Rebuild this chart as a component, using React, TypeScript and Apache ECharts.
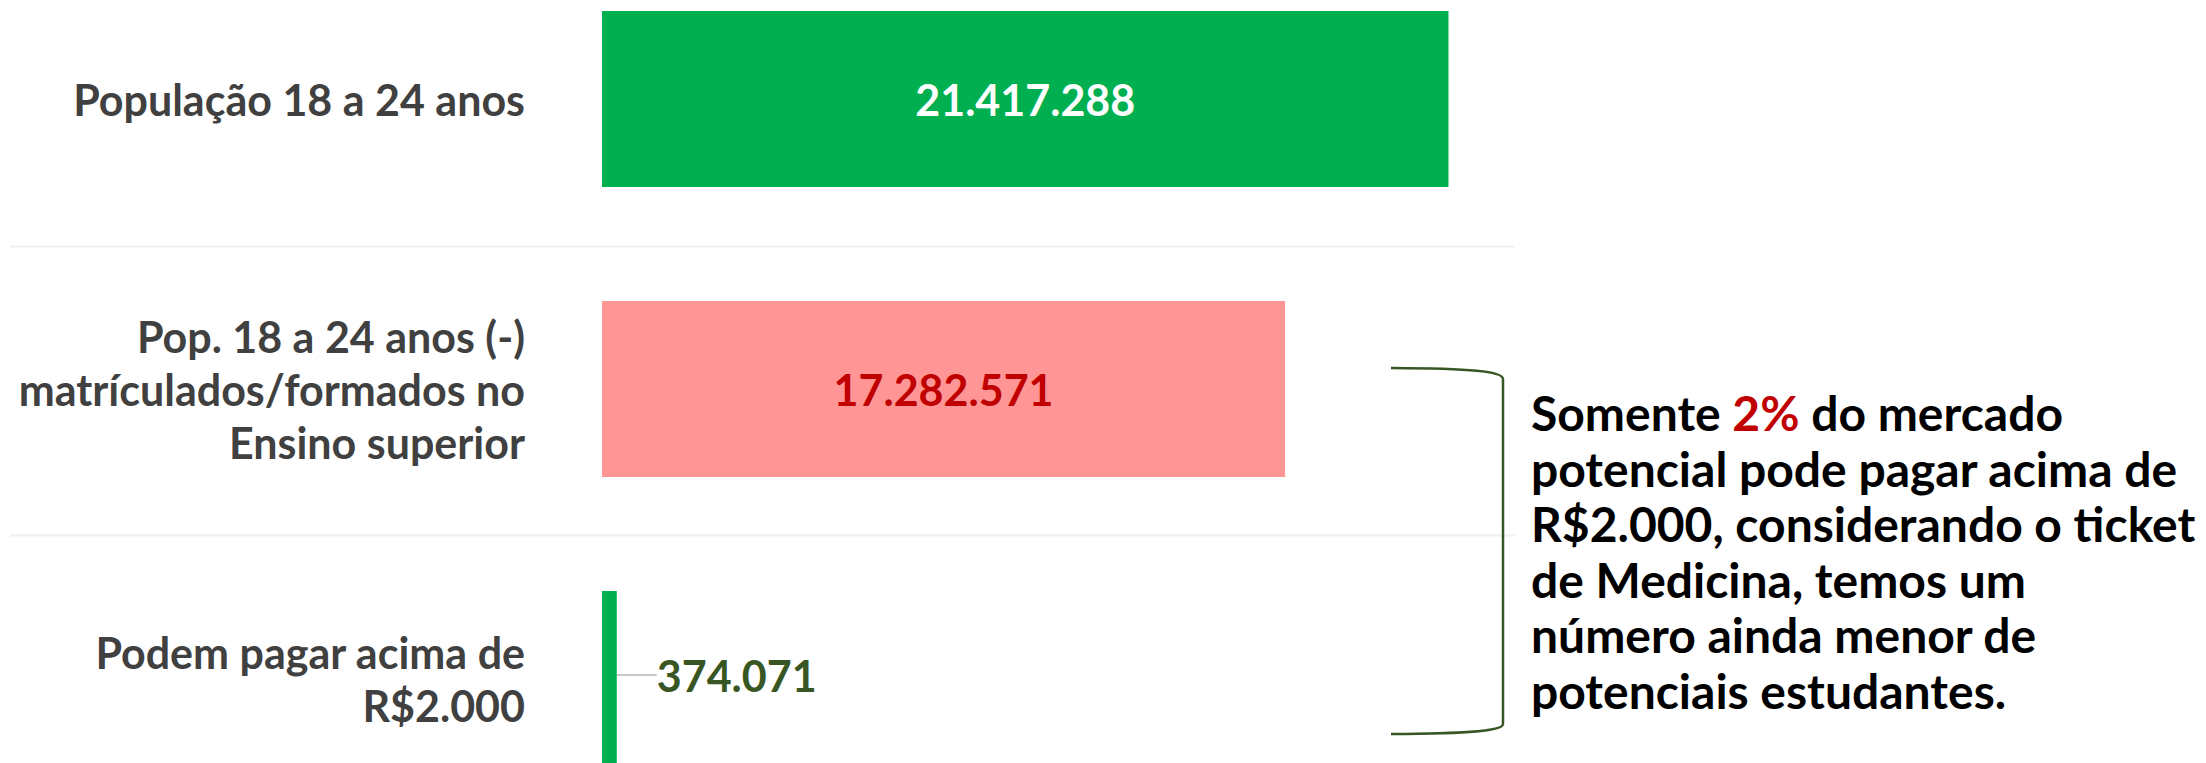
import React, { useEffect, useRef } from "react";
import * as echarts from "echarts";

const categories = [
  "População 18 a 24 anos",
  "Pop. 18 a 24 anos (-)\nmatrículados/formados no\nEnsino superior",
  "Podem pagar acima de\nR$2.000",
];
const values = [21417288, 17282571, 374071];
const barColors = ["#00b050", "#ff9595", "#00b050"];
const labelColors = ["#ffffff", "#c00000", "#375623"];
const noteLines = [
  "{b|Somente }{r|2%}{b| do mercado}",
  "{b|potencial pode pagar acima de}",
  "{b|R$2.000, considerando o ticket}",
  "{b|de Medicina, temos um}",
  "{b|número ainda menor de}",
  "{b|potenciais estudantes.}",
];

const fmt = (v: number) => v.toLocaleString("de-DE");

export default function App() {
  const ref = useRef<HTMLDivElement>(null);
  useEffect(() => {
    if (!ref.current) return;
    const chart = echarts.init(ref.current, undefined, { renderer: "svg" });
    const font = "Lato";
    chart.setOption({
      animation: false,
      backgroundColor: "#ffffff",
      grid: {
        left: 602,
        top: -46,
        width: 913,
        height: 870,
        containLabel: false,
        outerBoundsMode: "none",
      },
      xAxis: {
        type: "value",
        min: 0,
        max: 23100000,
        show: false,
      },
      yAxis: {
        type: "category",
        inverse: true,
        data: categories,
        axisLine: { show: false },
        axisTick: { show: false },
        splitLine: { show: false },
        axisLabel: {
          margin: 77,
          fontFamily: font,
          fontWeight: "bold",
          fontSize: 43,
          lineHeight: 53,
          color: "#404040",
          align: "right",
        },
      },
      series: [
        {
          type: "bar",
          barCategoryGap: "39.3%",
          data: values.map((v, i) => ({
            value: v,
            itemStyle: { color: barColors[i] },
            label: {
              show: true,
              position: i === 2 ? "right" : "inside",
              distance: 5,
              color: labelColors[i],
              fontFamily: font,
              fontWeight: "bold",
              fontSize: 43,
              padding: i === 2 ? [0, 0, 0, 20] : 0,
              formatter: (p: any) => fmt(p.value),
            },
            labelLine: {
              show: i === 2,
              length2: 0,
              lineStyle: { color: "#c8c8c8", width: 2 },
            },
          })),
          labelLayout: (p: any) => (p.dataIndex === 2 ? { dx: 15, dy: -4 } : {}),
        },
      ],
      graphic: [
        {
          type: "line",
          shape: { x1: 10, y1: 246.5, x2: 1515, y2: 246.5 },
          style: { stroke: "#f0f0f0", lineWidth: 2 },
          z: -1,
        },
        {
          type: "line",
          shape: { x1: 10, y1: 535.5, x2: 1515, y2: 535.5 },
          style: { stroke: "#f0f0f0", lineWidth: 2 },
          z: -1,
        },
        {
          type: "bezierCurve",
          shape: { x1: 1391, y1: 368, cpx1: 1470, cpy1: 368.5, cpx2: 1503, cpy2: 371, x2: 1503, y2: 379 },
          style: { stroke: "#375623", lineWidth: 2.5, fill: null },
        },
        {
          type: "line",
          shape: { x1: 1503, y1: 379, x2: 1503, y2: 724 },
          style: { stroke: "#375623", lineWidth: 2.5 },
        },
        {
          type: "bezierCurve",
          shape: { x1: 1503, y1: 724, cpx1: 1503, cpy1: 731, cpx2: 1470, cpy2: 733.5, x2: 1391, y2: 734 },
          style: { stroke: "#375623", lineWidth: 2.5, fill: null },
        },
        {
          type: "text",
          x: 1531,
          y: 385,
          style: {
            text: noteLines.join("\n"),
            verticalAlign: "top",
            align: "left",
            fontFamily: font,
            fontWeight: "bold",
            fontSize: 48,
            lineHeight: 55.5,
            fill: "#000000",
            rich: {
              b: { fontFamily: font, fontWeight: "bold", fontSize: 48, lineHeight: 55.5, fill: "#000000" },
              r: { fontFamily: font, fontWeight: "bold", fontSize: 48, lineHeight: 55.5, fill: "#c00000" },
            },
          },
        },
      ],
    });
    return () => chart.dispose();
  }, []);
  return (
    <div
      ref={ref}
      style={{ position: "fixed", left: 0, top: 0, width: 2206, height: 763, background: "#fff" }}
    />
  );
}
